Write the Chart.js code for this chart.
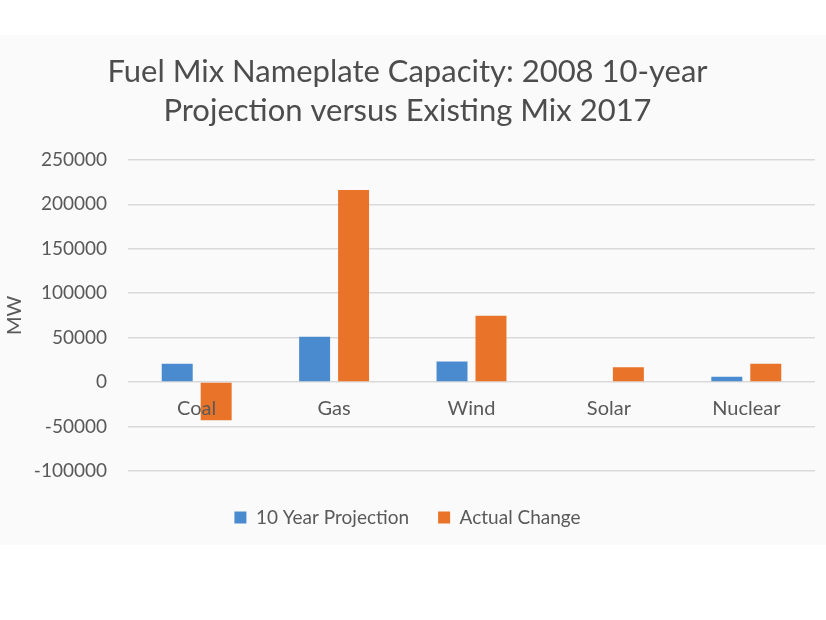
<!DOCTYPE html>
<html>
<head>
<meta charset="utf-8">
<script src="https://cdn.jsdelivr.net/npm/chart.js@4.4.1/dist/chart.umd.min.js"></script>
<style>
  html, body { margin: 0; padding: 0; background: #ffffff; width: 826px; height: 620px; overflow: hidden; }
  #wrap { position: absolute; left: 0; top: 35px; width: 826px; height: 510px; background: #fafafa; }
</style>
</head>
<body>
<div id="wrap"><canvas id="c" width="826" height="510"></canvas></div>
<script>
const categories = ["Coal", "Gas", "Wind", "Solar", "Nuclear"];
const projection = [20500, 51000, 23000, 0, 6000];
const actualChange = [-43000, 216000, 74500, 16500, 20500];
const seriesNames = ["10 Year Projection", "Actual Change"];
const titleLines = ["Fuel Mix Nameplate Capacity: 2008 10-year", "Projection versus Existing Mix 2017"];
const yAxisTitle = "MW";

const FONT = "Lato, 'Noto Sans', sans-serif";
const TXT = "#595959";

new Chart(document.getElementById('c'), {
  type: 'bar',
  data: {
    labels: categories,
    datasets: [
      { label: seriesNames[0], data: projection, backgroundColor: '#4a8bcf' },
      { label: seriesNames[1], data: actualChange, backgroundColor: '#e97329' }
    ]
  },
  options: {
    responsive: false,
    animation: false,
    layout: { padding: { top: 18, right: 11, bottom: 8, left: 0 } },
    datasets: { bar: { categoryPercentage: 0.567, barPercentage: 0.795 } },
    plugins: {
      tooltip: { enabled: false },
      title: {
        display: true,
        text: titleLines,
        color: '#4d4d4d',
        font: { family: FONT, size: 31, weight: 'normal', lineHeight: 1.24 },
        padding: { top: 0, bottom: 30 }
      },
      legend: {
        position: 'bottom',
        title: { display: true, text: ' ', font: { size: 1 }, padding: { top: 7, bottom: 0 } },
        labels: {
          color: TXT,
          font: { family: FONT, size: 19 },
          boxWidth: 12,
          boxHeight: 12,
          padding: 29
        }
      }
    },
    scales: {
      x: {
        type: 'category',
        position: { y: 0 },
        grid: { display: false, drawTicks: false },
        border: { display: false },
        ticks: { z: 1, color: TXT, font: { family: FONT, size: 20 }, padding: 15 }
      },
      y: {
        min: -100000,
        max: 250000,
        afterFit: (s) => { s.width = 128; },
        ticks: { stepSize: 50000, color: TXT, font: { family: FONT, size: 19 }, padding: 21,
                 callback: (v) => String(v) },
        grid: { color: '#d9d9d9', lineWidth: 1.5, drawTicks: false },
        border: { display: false },
        title: { display: true, text: yAxisTitle, color: TXT, font: { family: FONT, size: 20 }, padding: { top: 3, bottom: 0 } }
      }
    }
  }
});
</script>
</body>
</html>
